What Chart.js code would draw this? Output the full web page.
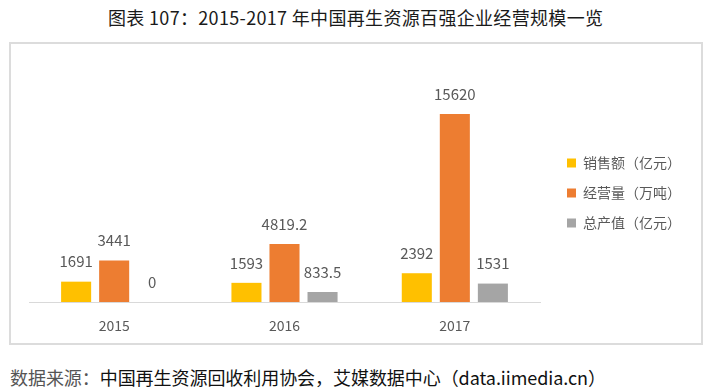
<!DOCTYPE html>
<html>
<head>
<meta charset="utf-8">
<script src="https://cdn.jsdelivr.net/npm/chart.js@4/dist/chart.umd.min.js"></script>
<style>
  body { margin: 0; width: 712px; height: 392px; background: #fff; position: relative; overflow: hidden;
         font-family: "Noto Sans CJK SC", "Noto Sans", sans-serif; }
  #title { position: absolute; left: 108px; top: 3px; white-space: nowrap;
           font-size: 18px; line-height: 28px; color: #1a1a1a; }
  #box { position: absolute; left: 9px; top: 42px; width: 690px; height: 299px; border: 2px solid #dcdcdc; }
  #source { position: absolute; left: 10px; top: 364px; white-space: nowrap;
            font-size: 18px; line-height: 26px; color: #111; }
  #source .lead { color: #555; }
</style>
</head>
<body>
<div id="title">图表 107：2015-2017 年中国再生资源百强企业经营规模一览</div>
<div id="box"><canvas id="scaleChart" width="690" height="299"></canvas></div>
<div id="source"><span class="lead">数据来源：</span>中国再生资源回收利用协会，艾媒数据中心（data.iimedia.cn）</div>
<script>
// Data for the chart
const years = ['2015', '2016', '2017'];
const sales = [1691, 1593, 2392];        // 销售额（亿元）
const volume = [3441, 4819.2, 15620];    // 经营量（万吨）
const output = [0, 833.5, 1531];         // 总产值（亿元）

const seriesNames = ['销售额（亿元）', '经营量（万吨）', '总产值（亿元）'];
const seriesColors = ['#FFC000', '#ED7D31', '#A5A5A5'];

const labelFont = '"Noto Sans CJK SC", "Noto Sans", sans-serif';

// stretch a line of text to a given width with letter spacing
function fitWidth(el, width) {
    const r = document.createRange();
    r.selectNodeContents(el);
    const w = r.getBoundingClientRect().width;
    const n = el.textContent.length - 1;
    el.style.letterSpacing = ((width - w) / n) + 'px';
}
fitWidth(document.getElementById('title'), 495);
fitWidth(document.getElementById('source'), 596);

// value labels above each bar
const valueLabels = {
    id: 'valueLabels',
    afterDatasetsDraw(chart) {
        const ctx = chart.ctx;
        ctx.save();
        ctx.font = '15px ' + labelFont;
        ctx.fillStyle = '#595959';
        ctx.textAlign = 'center';
        ctx.textBaseline = 'middle';
        chart.data.datasets.forEach((ds, i) => {
            chart.getDatasetMeta(i).data.forEach((bar, j) => {
                ctx.fillText(String(ds.data[j]), bar.x, bar.y - 20);
            });
        });
        ctx.restore();
    }
};

const data = {
    labels: years,
    datasets: [sales, volume, output].map((vals, i) => ({
        label: seriesNames[i],
        data: vals,
        backgroundColor: seriesColors[i],
        categoryPercentage: 0.67,
        barPercentage: 0.79
    }))
};

const options = {
    responsive: false,
    animation: false,
    layout: { padding: { left: 18, right: 10, top: 9, bottom: 10 } },
    plugins: {
        legend: {
            position: 'right',
            align: 'center',
            labels: {
                boxWidth: 9,
                boxHeight: 9,
                padding: 16,
                color: '#595959',
                font: { size: 14, family: labelFont }
            }
        },
        tooltip: { enabled: false }
    },
    scales: {
        x: {
            grid: { display: false, drawTicks: false },
            border: { display: true, color: '#d9d9d9', width: 1 },
            ticks: { color: '#595959', padding: 15, font: { size: 14, family: labelFont } },
            afterFit(scale) { scale.height = 31; }
        },
        y: {
            display: false,
            min: 0,
            max: 20700
        },
        // spacer between plot and legend
        gap: {
            type: 'linear',
            position: 'right',
            grid: { display: false },
            border: { display: false },
            ticks: { display: false },
            afterFit(scale) { scale.width = 11; }
        }
    }
};

const ctx = document.getElementById('scaleChart').getContext('2d');
const barChart = new Chart(ctx, {
    type: 'bar',
    data: data,
    options: options,
    plugins: [valueLabels]
});
</script>
</body>
</html>
